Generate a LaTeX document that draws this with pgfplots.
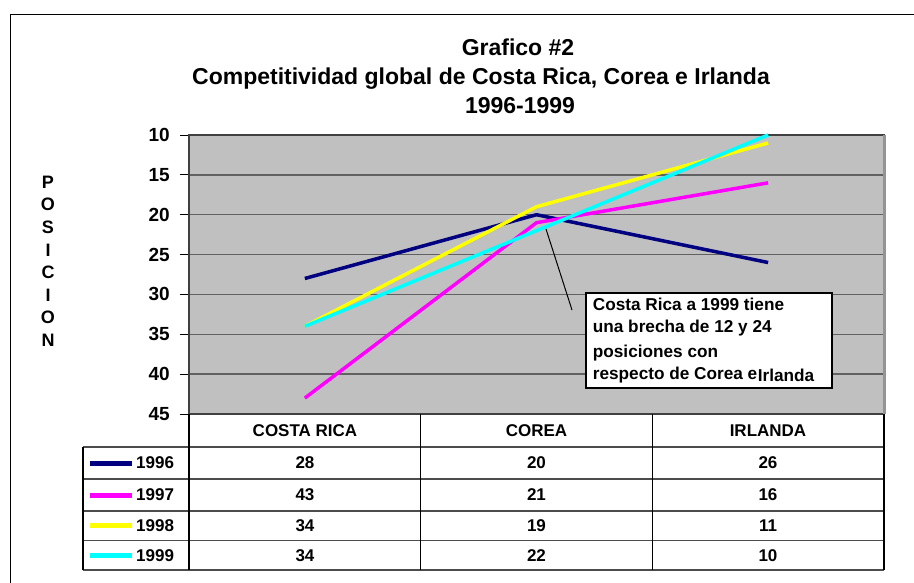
\documentclass[border=0pt]{standalone}
\usepackage{pgfplots}
\pgfplotsset{compat=1.18}
\usepackage{fontspec}
\setmainfont{Liberation Sans}
\definecolor{c96}{RGB}{0,0,128}
\definecolor{c97}{RGB}{255,0,255}
\definecolor{c98}{RGB}{255,255,0}
\definecolor{c99}{RGB}{0,255,255}
\definecolor{plotbg}{RGB}{192,192,192}
\begin{document}
\begin{tikzpicture}
\useasboundingbox (0,0) rectangle (914bp,-583bp);
\begin{axis}[
  at={(189bp,-135bp)}, anchor=north west,
  width=695bp, height=279bp, scale only axis,
  xmin=-0.5, xmax=2.5, ymin=10, ymax=45,
  y dir=reverse,
  xtick=\empty,
  ytick={10,15,20,25,30,35,40,45},
  ytick pos=left,
  tick align=outside,
  major tick length=9bp,
  tick style={black, line width=1bp},
  ymajorgrids,
  grid style={draw=black!62, line width=1.3bp},
  axis line style={draw=black!75, line width=1.5bp},
  axis background/.style={fill=plotbg},
  /pgf/number format/assume math mode=true,
  yticklabel style={font=\fontsize{19bp}{22bp}\selectfont\bfseries, inner sep=0pt, anchor=east, xshift=-10bp},
  clip=false,
]
\addplot[c96, line width=3.5bp, line join=round] coordinates {(0,28) (1,20) (2,26)};
\addplot[c97, line width=3.5bp, line join=round] coordinates {(0,43) (1,21) (2,16)};
\addplot[c98, line width=3.5bp, line join=round] coordinates {(0,34) (1,19) (2,11)};
\addplot[c99, line width=3.5bp, line join=round] coordinates {(0,34) (1,22) (2,10)};
\draw[black!42, line width=3bp] (rel axis cs:1,0) -- (rel axis cs:1,1);
\end{axis}
\begin{scope}[x=1bp, y=-1bp]
% outer frame
\draw[black, line width=1bp] (10,583) -- (10,14) -- (914,14);
% titles
\begin{scope}[font=\fontsize{23bp}{27bp}\selectfont\bfseries]
\node[anchor=base, inner sep=0pt] at (518,55) {Grafico \#2};
\node[anchor=base, inner sep=0pt] at (481,84) {Competitividad global de Costa Rica, Corea e Irlanda};
\node[anchor=base, inner sep=0pt] at (520,113) {1996-1999};
\end{scope}
% y label
\foreach \l [count=\i from 0] in {P,O,S,I,C,I,O,N}
  \node[anchor=base, inner sep=0pt, font=\fontsize{18bp}{22bp}\selectfont\bfseries] at (48,188.3+22.6*\i) {\l};
% annotation
\draw[black, line width=1bp] (546,229) -- (572,310);
\draw[black, fill=white, line width=1.6bp] (586,293) rectangle (832,388);
\begin{scope}[font=\fontsize{17.2bp}{20bp}\selectfont\bfseries]
\node[anchor=base west, inner sep=0pt] at (592.7,310) {Costa Rica a 1999 tiene};
\node[anchor=base west, inner sep=0pt] at (592.7,332.7) {una brecha de 12 y 24};
\node[anchor=base west, inner sep=0pt] at (592.7,357) {posiciones con};
\node[anchor=base west, inner sep=0pt] at (592.7,379) {respecto de Corea e};
\node[anchor=base west, inner sep=0pt] at (757.7,381.7) {Irlanda};
\end{scope}
% data table
\foreach \yy in {447,479,511,540.5,570}
  \draw[black!70, line width=1.3bp] (83,\yy) -- (884,\yy);
\foreach \xx in {189,420.7,652.3,884}
  \draw[black, line width=1.2bp] (\xx,414) -- (\xx,570);
\draw[black, line width=1.2bp] (83,447) -- (83,570);
\begin{scope}[font=\fontsize{17bp}{20bp}\selectfont\bfseries]
\node at (305,430.5) {COSTA RICA};
\node at (536.5,430.5) {COREA};
\node at (768,430.5) {IRLANDA};
\draw[c96, line width=5bp] (90,463) -- (132,463);
\draw[c97, line width=5bp] (90,495) -- (132,495);
\draw[c98, line width=5bp] (90,525.75) -- (132,525.75);
\draw[c99, line width=5bp] (90,555.25) -- (132,555.25);
\node[anchor=west, inner sep=0pt] at (136,463) {1996};
\node[anchor=west, inner sep=0pt] at (136,495) {1997};
\node[anchor=west, inner sep=0pt] at (136,525.75) {1998};
\node[anchor=west, inner sep=0pt] at (136,555.25) {1999};
\node at (305,463) {28};   \node at (536.5,463) {20};   \node at (768,463) {26};
\node at (305,495) {43};   \node at (536.5,495) {21};   \node at (768,495) {16};
\node at (305,525.75) {34}; \node at (536.5,525.75) {19}; \node at (768,525.75) {11};
\node at (305,555.25) {34}; \node at (536.5,555.25) {22}; \node at (768,555.25) {10};
\end{scope}
\end{scope}
\end{tikzpicture}
\end{document}
